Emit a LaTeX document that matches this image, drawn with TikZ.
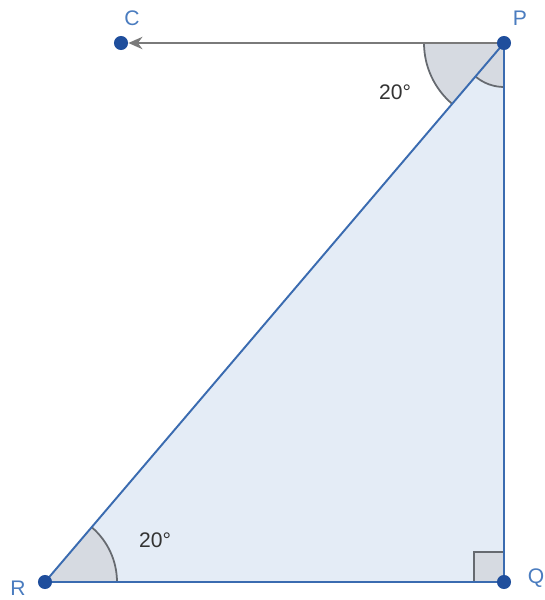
\documentclass[tikz,border=0pt]{standalone}
\usepackage{fontspec}
\setmainfont{Liberation Sans}
\usetikzlibrary{arrows.meta,calc}
\definecolor{triblue}{HTML}{3A6BB0}
\definecolor{dotblue}{HTML}{1F4E9C}
\definecolor{trifill}{HTML}{E4ECF6}
\definecolor{arcgray}{HTML}{666A70}
\definecolor{arcfill}{HTML}{D6DAE1}
\definecolor{labelblue}{HTML}{4A7CBF}
\definecolor{raygray}{HTML}{7A7A7A}

\begin{document}
\begin{tikzpicture}[
  x=0.02cm, y=0.02cm,
  pt/.style={circle, fill=dotblue, inner sep=0pt, minimum size=8pt},
  ptlabel/.style={text=labelblue, font=\large},
  anglabel/.style={text=black!80, font=\large},
  side/.style={draw=triblue, line width=1.1pt},
  ray/.style={draw=raygray, line width=1.4pt, -{Stealth[length=8pt,width=7pt]}},
  arcline/.style={draw=arcgray, line width=1pt},
  sector/.style={fill=arcfill}
]
\useasboundingbox (0,0) rectangle (545,600);

% points
\coordinate (Pc) at (504,557);
\coordinate (Qc) at (504,18);
\coordinate (Rc) at (45,18);

% triangle body
\fill[trifill] (Pc) -- (Qc) -- (Rc) -- cycle;

% angle marks
\fill[sector] (Pc) -- ++(180:1.6cm) arc[start angle=180, end angle=229.6, radius=1.6cm] -- cycle;
\fill[sector] (Pc) -- ++(229.6:0.88cm) arc[start angle=229.6, end angle=270, radius=0.88cm] -- cycle;
\fill[sector] (Rc) -- ++(0:1.44cm) arc[start angle=0, end angle=49.6, radius=1.44cm] -- cycle;
\draw[arcline] ($(Pc)+(180:1.6cm)$) arc[start angle=180, end angle=229.6, radius=1.6cm];
\draw[arcline] ($(Pc)+(229.6:0.88cm)$) arc[start angle=229.6, end angle=270, radius=0.88cm];
\draw[arcline] ($(Rc)+(0:1.44cm)$) arc[start angle=0, end angle=49.6, radius=1.44cm];
\filldraw[sector, arcline] (Qc) rectangle ++(-30,30);

% sides
\draw[side] (Pc) -- (Qc) -- (Rc) -- cycle;

\node[pt] (P) at (Pc) {};
\node[pt] (Q) at (Qc) {};
\node[pt] (R) at (Rc) {};
\node[pt] (C) at (121,557) {};

\draw[ray] (P) -- (C);

% labels
\node[ptlabel] (Plabel) at (520,582) {P};
\node[ptlabel] (Clabel) at (132,582) {C};
\node[ptlabel] (Qlabel) at (536,22) {Q};
\node[ptlabel] (Rlabel) at (18,12) {R};
\node[anglabel] (angP) at (395,508) {20°};
\node[anglabel] (angR) at (155,60) {20°};
\end{tikzpicture}
\end{document}
